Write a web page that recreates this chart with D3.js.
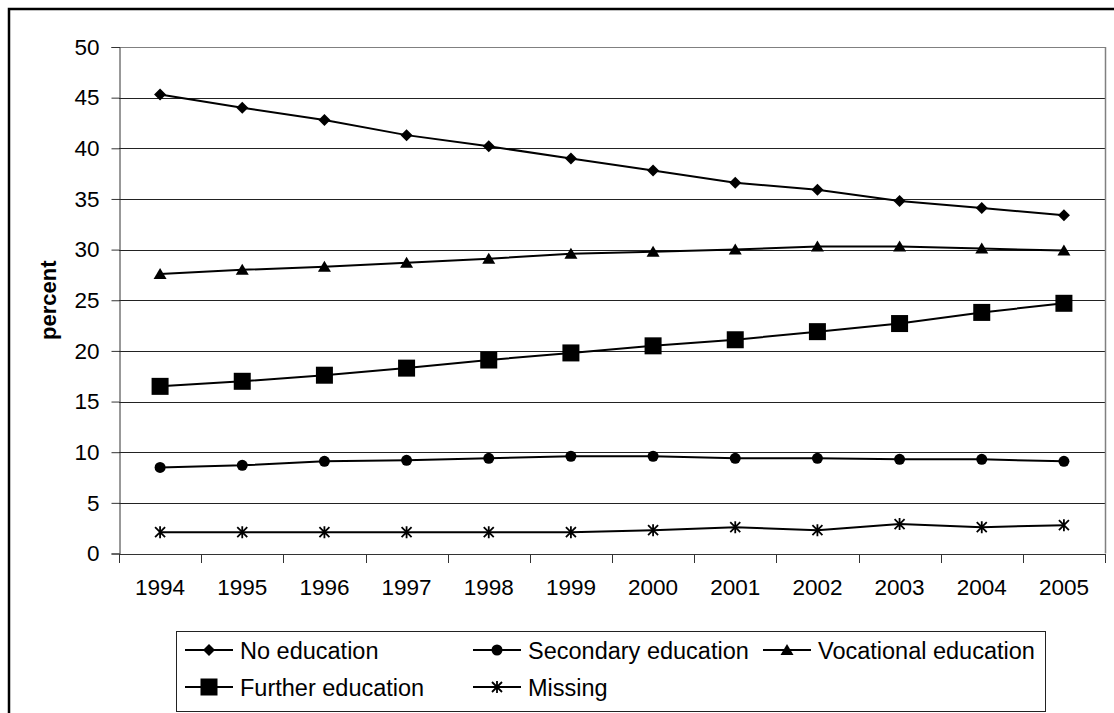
<!DOCTYPE html>
<html><head><meta charset="utf-8">
<script src="https://cdn.jsdelivr.net/npm/d3@7"></script>
<style>
body{margin:0;background:#fff}
svg{display:block}
text{font-family:"Liberation Sans",Arial,Helvetica,sans-serif;fill:#000}
</style>
</head><body>
<svg id="c" width="1114" height="713"></svg>
<script>
const years = ["1994","1995","1996","1997","1998","1999","2000","2001","2002","2003","2004","2005"];
const noEducation = [45.3,44.0,42.8,41.3,40.2,39.0,37.8,36.6,35.9,34.8,34.1,33.4];
const secondaryEducation = [8.5,8.7,9.1,9.2,9.4,9.6,9.6,9.4,9.4,9.3,9.3,9.1];
const vocationalEducation = [27.6,28.0,28.3,28.7,29.1,29.6,29.8,30.0,30.3,30.3,30.1,29.9];
const furtherEducation = [16.5,17.0,17.6,18.3,19.1,19.8,20.5,21.1,21.9,22.7,23.8,24.7];
const missing = [2.1,2.1,2.1,2.1,2.1,2.1,2.3,2.6,2.3,2.9,2.6,2.8];
const yTicks = [0,5,10,15,20,25,30,35,40,45,50];
const yLabel = "percent";

const series = [
  {name:"No education", values:noEducation, marker:"diamond"},
  {name:"Secondary education", values:secondaryEducation, marker:"circle"},
  {name:"Vocational education", values:vocationalEducation, marker:"triangle"},
  {name:"Further education", values:furtherEducation, marker:"square"},
  {name:"Missing", values:missing, marker:"star"}
];

const svg = d3.select("#c");
const L = 119, R = 1105, T = 47, B = 553.5;
const x = d3.scaleBand().domain(years).range([L, R]).padding(0);
const y = d3.scaleLinear().domain([0, 50]).range([B, T]);
const cx = d => x(d) + x.bandwidth() / 2;

// outer chart border
svg.append("rect").attr("x", 9).attr("y", 9).attr("width", 1130).attr("height", 730)
  .attr("fill", "none").attr("stroke", "#000").attr("stroke-width", 2.5);

// gridlines
svg.append("g").selectAll("line").data(yTicks.filter(t => t > 0)).join("line")
  .attr("x1", L).attr("x2", R).attr("y1", d => Math.round(y(d)) + 0.5).attr("y2", d => Math.round(y(d)) + 0.5)
  .attr("stroke", d => d === 50 ? "#808080" : "#222").attr("stroke-width", 1);

// plot area right border
svg.append("line").attr("x1", R + 0.5).attr("x2", R + 0.5).attr("y1", Math.round(T)).attr("y2", B)
  .attr("stroke", "#808080").attr("stroke-width", 1.5);

// y axis
const yAxis = d3.axisLeft(y).tickValues(yTicks).tickSize(8).tickPadding(12).tickFormat(d3.format("d"));
const gy = svg.append("g").attr("transform", `translate(${L + 0.5},0)`).call(yAxis);
gy.select(".domain").attr("stroke", "#333");
gy.selectAll(".tick line").attr("stroke", "#333");
gy.selectAll("text").style("font-size", "22.5px").attr("font-family", null);

// x axis: ticks at band boundaries, labels centered
const gx = svg.append("g");
gx.append("line").attr("x1", L).attr("x2", R + 1).attr("y1", Math.round(B) + 0.5).attr("y2", Math.round(B) + 0.5)
  .attr("stroke", "#333").attr("stroke-width", 1);
const bounds = years.map(d => x(d)).concat([x.range()[1]]);
gx.selectAll("line.tk").data(bounds).join("line").attr("class", "tk")
  .attr("x1", d => Math.round(d) + 0.5).attr("x2", d => Math.round(d) + 0.5)
  .attr("y1", Math.round(B)).attr("y2", Math.round(B) + 9).attr("stroke", "#333");
gx.selectAll("text").data(years).join("text")
  .attr("x", d => cx(d)).attr("y", 595).attr("text-anchor", "middle")
  .style("font-size", "22.5px").text(d => d);

// y label
svg.append("text").attr("transform", `translate(56,${(T + B) / 2}) rotate(-90)`)
  .attr("text-anchor", "middle").style("font-size", "22px").style("font-weight", "bold").text(yLabel);

function drawMarker(g, type) {
  if (type === "diamond") {
    g.append("path").attr("d", "M0,-6L6,0L0,6L-6,0Z").attr("fill", "#000");
  } else if (type === "circle") {
    g.append("circle").attr("r", 5.5).attr("fill", "#000");
  } else if (type === "triangle") {
    g.append("path").attr("d", "M0,-6L6.5,5L-6.5,5Z").attr("fill", "#000");
  } else if (type === "square") {
    g.append("rect").attr("x", -8.5).attr("y", -8.5).attr("width", 17).attr("height", 17).attr("fill", "#000");
  } else if (type === "star") {
    g.append("path").attr("d", "M-5,-5L5,5M-5,5L5,-5M0,-6L0,6")
      .attr("stroke", "#000").attr("stroke-width", 1.8).attr("fill", "none");
  }
}

const line = d3.line().x((d, i) => cx(years[i])).y(d => y(d));
series.forEach(s => {
  svg.append("path").datum(s.values).attr("d", line)
    .attr("fill", "none").attr("stroke", "#000").attr("stroke-width", 2);
  svg.append("g").selectAll("g").data(s.values).join("g")
    .attr("transform", (d, i) => `translate(${cx(years[i])},${y(d)})`)
    .each(function() { drawMarker(d3.select(this), s.marker); });
});

// legend
const lg = svg.append("g");
lg.append("rect").attr("x", 176.5).attr("y", 631.5).attr("width", 869).attr("height", 80)
  .attr("fill", "#fff").attr("stroke", "#222").attr("stroke-width", 1);
const legendPos = [[185, 650], [473, 650], [763, 650], [185, 687], [473, 687]];
series.forEach((s, i) => {
  const [lx, ly] = legendPos[i];
  const g = lg.append("g");
  g.append("line").attr("x1", lx).attr("x2", lx + 48).attr("y1", ly).attr("y2", ly)
    .attr("stroke", "#000").attr("stroke-width", 2);
  const m = g.append("g").attr("transform", `translate(${lx + 24},${ly})`);
  drawMarker(m, s.marker);
  g.append("text").attr("x", lx + 55).attr("y", ly + 8.5).style("font-size", "23.5px").text(s.name);
});
</script>
</body></html>
